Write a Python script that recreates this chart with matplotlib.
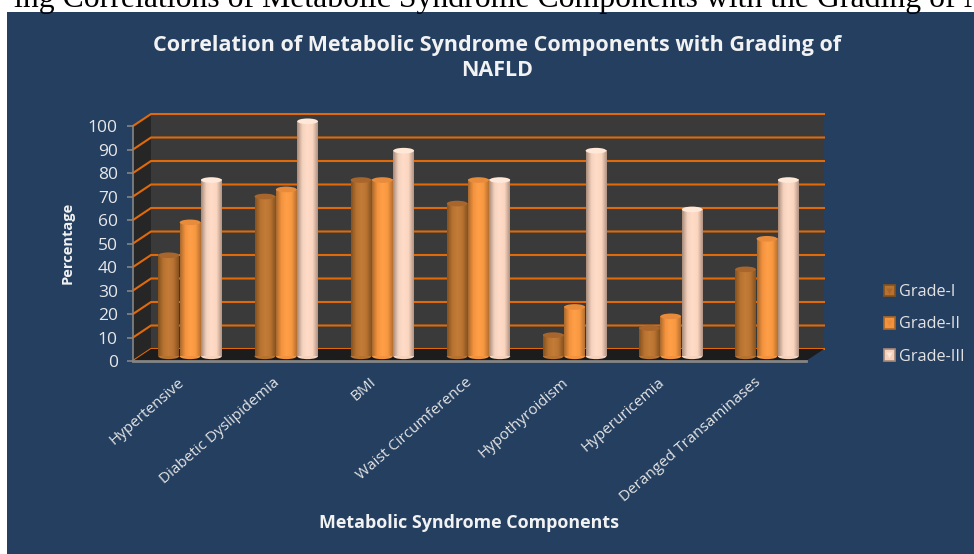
import numpy as np
import matplotlib
matplotlib.use('Agg')
import matplotlib.pyplot as plt
from matplotlib.colors import LinearSegmentedColormap
from matplotlib.legend_handler import HandlerTuple
from matplotlib.lines import Line2D
from matplotlib.patches import Ellipse, Patch, Polygon, Rectangle
from matplotlib.transforms import ScaledTranslation

categories = ['Hypertensive', 'Diabetic Dyslipidemia', 'BMI', 'Waist Circumference',
              'Hypothyroidism', 'Hyperuricemia', 'Deranged Transaminases']
grade_1 = [43, 68, 75, 65, 9, 12, 37]
grade_2 = [57, 71, 75, 75, 21, 17, 50]
grade_3 = [75, 100, 87.5, 75, 87.5, 62.5, 75]
series_names = ['Grade-I', 'Grade-II', 'Grade-III']
y_ticks = list(range(0, 101, 10))

W, H = 974, 554
plt.rcParams['font.family'] = ['Open Sans', 'DejaVu Sans']

fig = plt.figure(figsize=(W / 100, H / 100), dpi=100, facecolor='white')
fig.patches.append(Rectangle((7 / W, 0), 1, 1 - 12 / H, transform=fig.transFigure,
                             facecolor='#243f60', edgecolor='none', zorder=-5))

# front plane of the 3d box
left, right, bottom, top = 133, 806, 361, 126
ax = fig.add_axes([left / W, 1 - bottom / H, (right - left) / W, (bottom - top) / H])
ax.patch.set_visible(False)
ax.set_xlim(0, 7)
ax.set_ylim(0, 100)

# depth of the box in data units
dx = 18 / ((right - left) / 7)
dy = 12 / ((bottom - top) / 100)

ax.add_patch(Polygon([(dx, dy), (7 + dx, dy), (7 + dx, 100 + dy), (dx, 100 + dy)],
                     facecolor='#3a3a3a', edgecolor='none', clip_on=False, zorder=1))
ax.add_patch(Polygon([(0, 0), (dx, dy), (dx, 100 + dy), (0, 100)],
                     facecolor='#262626', edgecolor='none', clip_on=False, zorder=1))
for t in y_ticks:
    ax.plot([0, dx, 7 + dx], [t, t + dy, t + dy], color='#e06a0a', lw=1.5,
            clip_on=False, zorder=2, solid_joinstyle='miter')
ax.add_patch(Polygon([(0, 0), (7, 0), (7 + dx, dy), (dx, dy)],
                     facecolor='#1c1c1c', edgecolor='none', clip_on=False, zorder=2.2))

# cylinders
colors = [['#85521f', '#b87230', '#c47c38', '#b87232', '#85521f'],
          ['#a8682c', '#f4933e', '#ff9f48', '#f89840', '#b5702f'],
          ['#a88a7a', '#f4d2bd', '#ffdcc8', '#fbd6c0', '#b09484']]
top_colors = ['#a9662c', '#e88c3c', '#ffe8d8']
series = [grade_1, grade_2, grade_3]
bar_w = 0.222
x_base = np.arange(len(categories)) + 0.5 + dx / 2
foot = 2.0
grad = np.linspace(0, 1, 64).reshape(1, -1)
for j, vals in enumerate(series):
    cmap = LinearSegmentedColormap.from_list('c%d' % j, colors[j])
    xs = x_base + (j - 1) * bar_w
    bars = ax.bar(xs, vals, bar_w * 0.97, bottom=foot, color=colors[j][2], zorder=3, clip_on=False)
    for b, x, v in zip(bars, xs, vals):
        x0, x1 = b.get_x(), b.get_x() + b.get_width()
        ax.add_patch(Ellipse((x, foot), b.get_width(), 2.4, facecolor=colors[j][1],
                             edgecolor='none', zorder=3, clip_on=False))
        im = ax.imshow(grad, extent=(x0, x1, foot, foot + v), cmap=cmap, aspect='auto',
                       zorder=4, clip_on=False, interpolation='bilinear')
        ax.add_patch(Ellipse((x, foot + v), b.get_width(), 2.4, facecolor=top_colors[j],
                             edgecolor='none', zorder=5, clip_on=False))
ax.set_xlim(0, 7)
ax.set_ylim(0, 100)

# axes
for s in ['top', 'right']:
    ax.spines[s].set_visible(False)
for s in ['left', 'bottom']:
    ax.spines[s].set_color('#858585')
    ax.spines[s].set_zorder(2.5)
ax.spines['left'].set_linewidth(1.2)
ax.spines['bottom'].set_linewidth(2)
ax.set_yticks(y_ticks)
ax.tick_params(axis='y', length=4, width=1.2, color='#858585', labelcolor='#e8e8e8',
               labelsize=12.5, pad=7)
ax.set_xticks(np.arange(len(categories)) + 0.5)
ax.set_xticklabels(categories, rotation=41, ha='right', rotation_mode='anchor',
                   color='#e4e4e4', fontsize=11)
ax.tick_params(axis='x', length=0, pad=10)
shift = ScaledTranslation(-4 / 100, 0, fig.dpi_scale_trans)
for lab in ax.get_xticklabels():
    lab.set_transform(lab.get_transform() + shift)

fig.text(497 / W, 1 - 58 / H, 'Correlation of Metabolic Syndrome Components with Grading of\nNAFLD',
         ha='center', va='center', color='#f2f2f2', fontsize=15.5, fontweight='bold', linespacing=1.2)
fig.text(68 / W, 1 - 243 / H, 'Percentage', rotation=90, ha='center', va='center',
         color='#f2f2f2', fontsize=10.5, fontweight='bold')
fig.text(469 / W, 1 - 523 / H, 'Metabolic Syndrome Components', ha='center', va='center',
         color='#f2f2f2', fontsize=12.9, fontweight='bold')

# heading of the surrounding page, runs off the edge
fig.text(14 / W, 1 - 7.5 / H, 'ing Correlations of Metabolic Syndrome Components with the Grading of NAFLD',
         ha='left', va='baseline', color='black', fontsize=22.9, family='Liberation Serif')

handles = []
for j, name in enumerate(series_names):
    sq = Patch(facecolor=colors[j][1], edgecolor=colors[j][0], linewidth=1.2)
    mark = Line2D([], [], marker='v', markersize=4, linestyle='none',
                  markerfacecolor=top_colors[j], markeredgecolor='none')
    handles.append((sq, mark))
fig.legend(handles, series_names, loc='center left', bbox_to_anchor=(869 / W, 1 - 324.5 / H),
           frameon=False, fontsize=11.7, labelcolor='#e4e4e4', handlelength=0.7, handleheight=0.7,
           handletextpad=0.25, labelspacing=1.0, handler_map={tuple: HandlerTuple(ndivide=1, pad=0)})

fig.savefig('out.png', dpi=100)
